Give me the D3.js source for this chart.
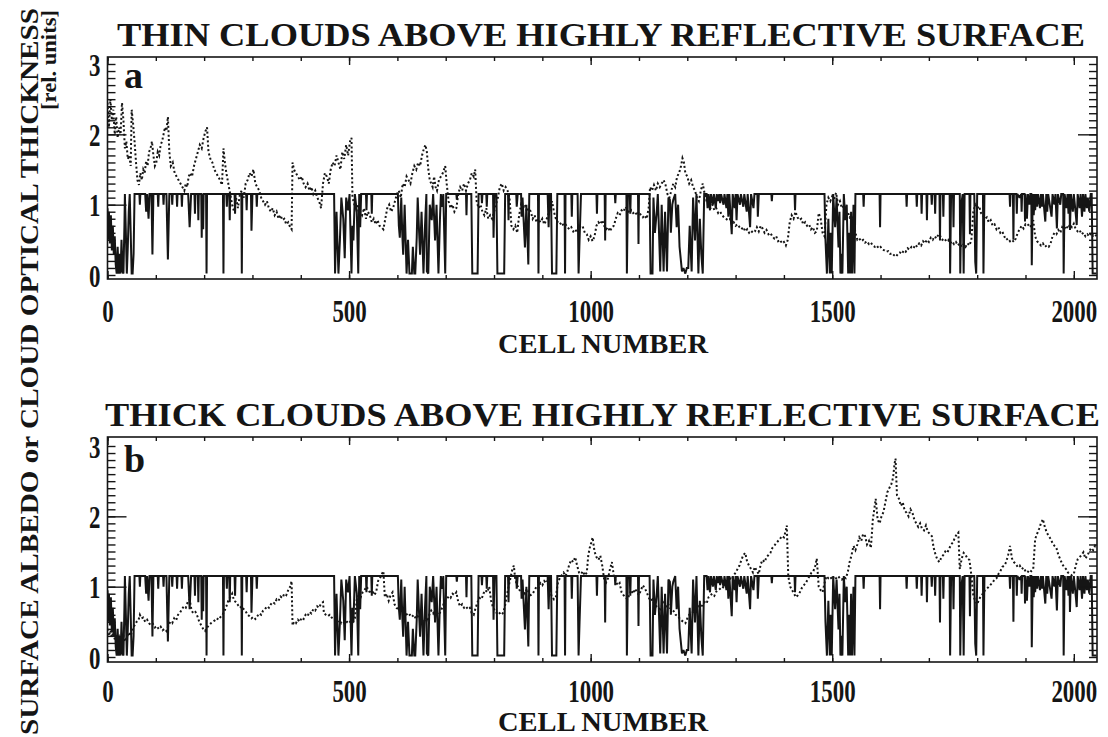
<!DOCTYPE html>
<html>
<head>
<meta charset="utf-8">
<script src="https://cdn.jsdelivr.net/npm/d3@7"></script>
<style>
  body { margin: 0; background: #fff; }
  svg text { font-family: "Liberation Serif", "Times New Roman", serif; font-weight: bold; fill: #151515; }
</style>
</head>
<body>
<svg id="chart" width="1108" height="737"></svg>
<script>
// ---- axis ticks and titles ----
const cellTicks = [0, 500, 1000, 1500, 2000];
const valueTicks = [0, 1, 2, 3];
const panelTitles = ["THIN CLOUDS ABOVE HIGHLY REFLECTIVE SURFACE", "THICK CLOUDS ABOVE HIGHLY REFLECTIVE SURFACE"];
const panelLetters = ["a", "b"];
const xTitle = "CELL NUMBER";
const yTitle = "SURFACE ALBEDO or CLOUD OPTICAL THICKNESS";
const yUnits = "[rel. units]";

// ---- surface albedo (same surface under both cloud fields): [cell, value] vertices ----
const albedo = [
  [0,0.95],[1,0.5],[3,0.9],[5,0.45],[7,0.85],[9,0.35],[11,0.7],[13,0.3],[15,0.55],[17,0.15],[19,0.02],[21,0.4],[23,0.02],[25,0.3],[27,0.02],[29,0.5],[31,0.05],[33,0.02],[35,0.7],[36,1.15],[38,0.6],[40,0.02],[42,0.4],[44,0.9],[46,1.15],[48,0.6],[50,0.02],[52,0.02],[54,0.3],[56,1.15],
  [66,1.15],[67,1.0],[68,1.15],[78,1.15],[80,0.9],[82,1.15],[85,0.8],[87,1.15],
  [91,1.15],[93,0.29],[95,1.15],[104,1.15],[105,0.97],[106,1.15],[115,1.15],[116,1.0],[117,1.15],
  [122,1.15],[125,0.22],[128,1.15],[133,1.15],[134,1.0],[135,1.15],[143,1.15],[144,0.97],[145,1.15],[153,1.15],[154,0.97],[155,1.15],
  [167,1.15],[170,0.68],[173,1.15],[180,1.15],[181,0.87],[182,1.15],[187,1.15],[188,0.78],[189,1.15],[194,1.15],[195,0.53],[196,1.15],[198,0.65],[199,1.15],
  [204,1.15],[205,0.02],[206,1.15],[239,1.15],[240,0.02],[241,1.15],[246,1.15],[247,0.97],[248,1.15],[252,1.15],[253,0.78],[254,1.15],[263,1.15],[264,0.87],[265,1.15],[277,1.15],[278,0.02],[279,1.15],[287,1.15],[288,0.92],[289,1.15],[297,1.15],[298,0.63],[300,1.15],[308,1.15],[309,0.97],[310,1.15],
  [469,1.15],[471,0.02],[474,0.9],[478,0.02],[481,0.49],[484,1.1],[488,0.8],[491,0.24],[494,1.1],[498,0.92],[501,1.15],[505,0.02],[507,0.7],[509,0.49],[512,1.15],[516,0.9],[519,0.02],[521,1.15],[523,0.68],[525,1.15],
  [535,1.15],[536,0.92],[537,1.15],[546,1.15],[547,0.87],[548,1.15],
  [601,1.15],[603,0.7],[605,0.53],[608,1.1],[610,0.6],[612,0.29],[615,1.0],[619,0.02],[622,0.5],[625,0.02],[630,0.02],[632,0.4],[635,0.02],[637,0.02],[640,0.53],[642,1.1],[645,0.6],[647,0.29],[650,0.9],[654,0.02],[657,0.68],[660,1.15],[661,0.05],[664,0.02],[667,1.0],[671,0.78],[674,1.15],[678,0.49],[681,1.0],[685,0.02],[688,0.78],[690,1.15],[692,0.97],[695,1.15],[699,0.02],[701,1.15],
  [722,1.15],[723,1.07],[724,1.15],[742,1.15],[743,0.85],[744,1.15],[753,1.15],[755,0.02],[766,0.02],[768,1.15],[774,1.15],[775,1.02],[776,1.15],[784,1.15],[785,0.97],[786,1.15],[798,1.15],[799,0.53],[801,1.15],[805,1.15],[807,0.02],[821,0.02],[823,1.15],[829,1.15],[830,0.78],[831,1.15],[846,1.15],[847,0.97],[849,1.15],[856,1.15],[857,0.83],[859,1.1],[864,0.39],[867,1.0],[871,0.15],[873,1.15],[891,1.15],[892,0.02],[893,1.15],[911,1.15],[913,0.68],[915,1.15],[918,1.15],[920,0.02],[929,0.02],[931,1.15],[946,1.15],[947,0.02],[948,1.15],[960,1.15],[961,0.83],[962,1.15],[973,1.15],[975,0.02],[977,0.49],[980,1.15],
  [1012,1.15],[1013,0.87],[1014,1.15],[1029,1.15],[1030,0.49],[1031,1.15],[1050,1.15],[1051,1.02],[1052,1.15],[1074,1.15],[1075,0.02],[1077,1.15],[1081,1.15],[1082,0.87],[1083,1.15],[1098,1.15],[1099,0.44],[1100,1.15],
  [1122,1.15],[1124,0.02],[1128,0.02],[1130,1.1],[1133,0.6],[1137,0.92],[1139,1.15],[1142,0.5],[1144,0.05],[1147,1.0],[1151,0.05],[1154,0.9],[1158,0.05],[1161,1.1],[1164,1.07],[1166,0.6],[1169,1.0],[1171,1.07],[1175,1.15],[1178,0.68],[1181,1.0],[1184,0.4],[1189,0.05],[1192,0.1],[1196,0.02],[1199,0.1],[1202,0.1],[1205,0.7],[1209,0.05],[1212,1.1],[1216,0.49],[1219,1.15],[1223,0.02],[1226,0.8],[1229,0.3],[1232,0.02],[1235,1.15],
  [1240,1.15],[1242,0.95],[1244,1.15],[1247,0.92],[1249,1.15],[1253,1.0],[1255,1.15],[1259,0.95],[1261,1.15],[1264,1.05],[1266,1.15],[1268,1.02],[1270,1.15],[1275,1.0],[1277,1.15],[1281,0.95],[1283,1.15],[1285,0.83],[1287,1.15],[1292,0.58],[1294,1.15],[1298,0.95],[1300,1.15],[1302,0.78],[1304,1.15],[1309,1.0],[1311,1.15],[1316,0.97],[1318,1.15],[1323,0.9],[1325,1.15],[1330,0.68],[1332,1.15],[1337,0.95],[1339,1.15],[1345,1.15],[1346,0.83],[1348,1.15],
  [1374,1.15],[1375,1.05],[1376,1.15],[1422,1.15],[1423,0.92],[1424,1.15],
  [1484,1.15],[1486,0.5],[1489,0.02],[1492,0.8],[1495,0.02],[1497,0.6],[1499,0.02],[1502,1.15],[1504,0.9],[1506,0.68],[1509,1.1],[1513,0.39],[1515,0.9],[1517,0.02],[1519,0.3],[1521,0.02],[1524,1.15],[1527,0.78],[1530,1.0],[1533,0.02],[1535,0.6],[1537,0.02],[1539,0.9],[1541,0.02],[1544,1.0],[1546,0.02],[1548,1.15],
  [1564,1.15],[1565,0.97],[1566,1.15],[1598,1.15],[1599,0.68],[1600,1.15],
  [1653,1.15],[1654,0.97],[1655,1.15],[1674,1.15],[1675,0.97],[1676,1.15],[1684,1.15],[1685,0.87],[1686,1.15],[1695,1.15],[1696,0.78],[1697,1.15],[1705,1.15],[1706,1.0],[1707,1.15],[1712,1.15],[1713,0.87],[1714,1.15],[1722,1.15],[1723,0.49],[1724,1.15],[1729,1.15],[1730,0.83],[1731,1.15],[1743,1.15],[1744,0.02],[1746,1.15],[1750,1.15],[1751,0.68],[1752,1.15],[1764,1.15],[1765,0.02],[1767,1.0],[1770,1.15],[1772,0.02],[1774,1.15],[1784,1.15],[1785,0.58],[1786,1.15],[1794,1.15],[1796,0.19],[1798,0.02],[1800,1.15],[1812,1.15],[1813,0.02],[1815,1.15],
  [1867,1.15],[1868,0.97],[1869,1.15],[1874,1.15],[1875,0.5],[1876,1.15],[1881,1.15],[1882,0.87],[1883,1.15],[1888,1.1],[1891,1.15],[1892,0.9],[1893,1.15],[1898,1.15],[1899,0.76],[1900,1.15],[1903,0.8],[1905,1.15],[1908,1.0],[1910,1.15],[1912,1.15],[1913,0.14],[1915,1.15],[1917,0.85],[1919,1.15],[1920,0.92],[1922,1.15],[1924,0.97],[1926,1.15],[1930,0.95],[1932,1.15],[1934,0.97],[1936,1.15],[1941,0.76],[1943,1.15],[1945,0.9],[1947,1.15],[1954,0.83],[1956,1.15],[1960,1.0],[1962,1.15],[1965,0.66],[1967,1.15],[1972,1.0],[1974,1.15],[1978,1.15],[1979,0.02],[1981,1.15],[1985,0.95],[1987,1.15],[1989,0.87],[1991,1.15],[1992,0.64],[1994,1.15],[1998,0.9],[2000,1.15],[2004,0.87],[2006,0.71],[2008,1.15],[2012,0.95],[2014,1.15],[2017,0.83],[2019,1.15],[2022,0.9],[2024,1.15],[2027,0.95],[2029,1.1],[2032,0.9],[2035,1.15],[2037,1.15],[2039,0.02],[2047,0.02]
];

// ---- cloud optical thickness, thin clouds: [cell, value] ----
const thinTau = [
  [0,2.45],[3,2.1],[6,2.5],[9,2.2],[12,2.35],[15,2.0],[18,2.25],[21,1.95],[24,2.1],[27,2.0],[30,2.45],[33,2.2],[36,1.8],[39,1.9],[42,1.65],[45,1.7],[48,1.55],[50,2.35],[53,2.15],[56,1.9],[59,1.6],[62,1.35],[65,1.28],[68,1.45],[71,1.35],[74,1.5],[77,1.45],[80,1.62],[83,1.55],[86,1.75],[89,1.8],[92,1.9],[95,1.7],[98,1.55],[101,1.6],[104,1.75],[107,1.7],[110,1.85],[113,1.9],[116,2.0],[119,2.1],[122,2.05],[125,2.25],[128,1.75],[131,1.55],[135,1.6],[139,1.45],[143,1.4],[147,1.35],[151,1.3],[155,1.25],[159,1.2],[162,1.3],[165,1.25],[168,1.4],[171,1.45],[175,1.4],[179,1.55],[183,1.65],[187,1.75],[191,1.85],[195,1.8],[199,1.95],[203,2.05],[206,2.1],[209,1.75],[213,1.65],[217,1.6],[221,1.5],[225,1.45],[229,1.4],[233,1.35],[237,1.28],[240,1.8],[243,1.6],[246,1.45],[250,1.3],[254,1.15],[258,1.0],[262,0.9],[266,1.1],[270,0.95],[274,1.15],[278,1.2],[282,1.1],[286,1.3],[290,1.35],[294,1.45],[298,1.4],[302,1.5],[306,1.3],[310,1.25],[314,1.2],[318,1.1],[322,1.05],[326,1.0],[330,1.05],[334,0.95],[338,0.9],[342,0.95],[346,0.85],[350,0.9],[354,0.8],[358,0.85],[362,0.78],[366,0.8],[370,0.72],[374,0.75],[378,0.68],[381,0.65],
  [383,1.6],[386,1.5],[390,1.45],[394,1.4],[398,1.35],[402,1.4],[406,1.3],[410,1.25],[414,1.3],[418,1.2],[422,1.25],[426,1.15],[430,1.2],[434,1.1],[438,1.05],[442,0.95],[446,1.3],[450,1.45],[454,1.4],[458,1.3],[462,1.5],[466,1.6],[470,1.55],[474,1.7],[478,1.6],[482,1.5],[486,1.75],[490,1.65],[494,1.85],[498,1.7],[502,1.9],[505,1.95],[507,1.1],[511,1.0],[515,0.9],[519,1.0],[523,0.9],[527,0.85],[531,0.95],[535,0.8],[539,0.9],[543,0.85],[547,0.75],[551,0.8],[555,0.72],[559,0.78],[563,0.7],[567,0.68],[571,0.65],[575,0.8],[579,0.95],[583,1.0],[587,0.9],[591,0.95],[595,1.05],[599,1.15],[603,1.2],[607,1.1],[611,1.3],[615,1.25],[619,1.4],[623,1.35],[627,1.3],[631,1.45],[635,1.55],[639,1.5],[643,1.6],[647,1.55],[651,1.7],[655,1.8],[658,1.85],[661,1.75],[664,1.5],[667,1.35],[670,1.3],[673,1.25],
  [676,1.4],[679,1.25],[682,1.2],[686,1.35],[690,1.4],[694,1.45],[699,1.55],[702,1.3],[706,1.05],[710,0.95],[714,1.0],[718,0.9],[722,0.95],[726,1.15],[730,1.25],[734,1.2],[738,1.3],[742,1.2],[746,1.3],[750,1.35],[754,1.45],[758,1.4],[761,1.5],[764,1.05],[768,0.95],[772,1.0],[776,0.9],[780,0.85],[784,0.95],[788,0.8],[792,0.85],[796,0.8],[800,0.9],[804,1.0],[808,1.1],[812,1.25],[816,1.3],[820,1.2],[824,1.25],[828,1.2],[832,1.1],[836,0.7],[840,0.65],[844,0.7],[848,0.6],[852,0.85],[856,1.0],[860,0.95],[864,1.0],[868,0.9],[872,0.95],[876,0.9],[880,0.8],[884,0.85],[888,0.75],[892,0.8],[896,0.75],[900,0.8],[904,0.72],[908,0.78],[912,0.85],[916,0.95],[920,1.05],[924,0.9],[928,0.8],[932,0.75],[936,0.72],[940,0.75],[944,0.7],[948,0.72],[952,0.68],[956,0.65],[960,0.68],[964,0.62],[968,0.65],[972,0.6],[976,0.66],[980,0.7],[984,0.68],[988,0.6],[992,0.58],[996,0.5],[1000,0.55],[1004,0.48],[1008,0.55],[1012,0.7],[1016,0.75],[1020,0.72],[1024,0.78],[1028,0.7],[1032,0.65],[1036,0.68],[1040,0.62],[1044,0.68],[1048,0.7],[1052,0.8],[1056,0.88],[1060,0.85],[1064,0.92],[1068,0.9],[1072,0.97],[1076,0.93],[1080,0.88],[1084,0.92],[1088,0.88],[1092,0.9],[1096,0.85],[1100,0.9],[1104,0.85],[1108,0.82],[1112,0.85],[1116,0.8],[1120,0.95],
  [1123,1.25],[1127,1.2],[1131,1.28],[1135,1.2],[1139,1.3],[1143,1.25],[1147,1.3],[1151,1.35],[1155,1.28],[1159,1.15],[1163,1.1],[1167,1.2],[1171,1.3],[1175,1.25],[1179,1.4],[1183,1.45],[1187,1.55],[1190,1.66],[1193,1.6],[1196,1.45],[1200,1.4],[1204,1.3],[1208,1.35],[1212,1.25],[1216,1.2],[1220,1.1],[1224,1.05],[1228,1.2],[1232,1.3],[1236,1.15],[1240,1.05],[1244,1.0],[1248,0.95],[1252,1.0],[1256,0.92],[1260,0.95],[1264,0.88],[1268,0.9],[1272,0.85],[1276,0.82],[1280,0.8],[1284,0.78],[1288,0.8],[1292,0.72],[1296,0.75],[1300,0.7],[1304,0.72],[1308,0.68],[1312,0.65],[1316,0.68],[1320,0.62],[1324,0.65],[1328,0.6],[1332,0.63],[1336,0.6],[1340,0.62],
  [1344,0.68],[1348,0.62],[1352,0.7],[1356,0.66],[1360,0.6],[1364,0.64],[1368,0.58],[1372,0.6],[1376,0.55],[1380,0.52],[1384,0.55],[1388,0.48],[1392,0.5],[1396,0.45],[1400,0.47],[1404,0.42],[1408,0.5],[1412,0.75],[1416,0.85],[1420,0.8],[1424,0.9],[1428,0.82],[1432,0.78],[1436,0.8],[1440,0.72],[1444,0.75],[1448,0.7],[1452,0.72],[1456,0.65],[1460,0.68],[1464,0.6],[1468,0.62],[1472,0.88],[1476,0.8],[1480,0.6],[1484,0.55],[1488,1.0],[1492,1.1],[1496,1.05],[1500,1.12],[1504,1.08],[1508,1.17],[1512,1.0],[1516,1.05],[1520,0.95],[1524,0.98],[1528,0.88],[1532,0.9],[1536,0.82],[1540,0.85],[1544,0.78],[1548,0.6],[1552,0.5],[1556,0.52],[1560,0.48],[1564,0.5],[1568,0.46],[1572,0.48],[1576,0.44],[1580,0.46],[1584,0.42],[1588,0.4],[1592,0.42],[1596,0.38],[1600,0.4],[1604,0.36],[1608,0.35],[1612,0.33],[1616,0.34],[1620,0.3],[1624,0.31],[1628,0.28],[1632,0.26],[1636,0.3],[1640,0.32],[1644,0.3],[1648,0.35],[1652,0.33],[1656,0.38],[1660,0.36],[1664,0.4],[1668,0.38],[1672,0.43],[1676,0.4],[1680,0.45],[1684,0.42],[1688,0.48],[1692,0.45],[1696,0.5],[1700,0.47],[1704,0.53],[1708,0.5],[1712,0.55],[1716,0.52],[1720,0.58],[1724,0.55],[1728,0.5],[1732,0.52],[1736,0.48],[1740,0.5],[1744,0.45],[1748,0.48],[1752,0.44],[1756,0.47],[1760,0.42],[1764,0.45],[1768,0.4],[1772,0.44],[1776,0.4],[1780,0.45],[1784,0.42],[1788,0.5],
  [1792,0.9],[1796,1.0],[1800,0.95],[1804,0.98],[1808,0.88],[1812,0.85],[1816,0.8],[1820,0.82],[1824,0.75],[1828,0.78],[1832,0.7],[1836,0.72],[1840,0.65],[1844,0.68],[1848,0.6],[1852,0.62],[1856,0.55],[1860,0.5],[1864,0.52],[1868,0.48],[1872,0.5],[1876,0.47],[1880,0.52],[1884,0.6],[1888,0.65],[1892,0.7],[1896,0.66],[1900,0.72],[1904,0.7],[1908,0.73],[1912,0.68],[1916,0.78],[1920,0.55],[1924,0.48],[1928,0.45],[1932,0.42],[1936,0.45],[1940,0.4],[1944,0.42],[1948,0.4],[1952,0.45],[1956,0.55],[1960,0.6],[1964,0.58],[1968,0.64],[1972,0.6],[1976,0.68],[1980,0.65],[1984,0.7],[1988,0.66],[1992,0.72],[1996,0.68],[2000,0.73],[2004,0.65],[2008,0.62],[2012,0.64],[2016,0.58],[2020,0.6],[2024,0.55],[2028,0.58],[2032,0.55],[2036,0.6],[2040,0.56],[2044,0.58],[2047,0.55]
];

// ---- cloud optical thickness, thick clouds: [cell, value] ----
const thickTau = [
  [0,0.4],[3,0.3],[6,0.38],[9,0.28],[12,0.35],[15,0.25],[18,0.32],[21,0.22],[24,0.28],[27,0.2],[30,0.26],[33,0.3],[36,0.22],[40,0.28],[44,0.35],[48,0.3],[52,0.4],[56,0.45],[60,0.5],[64,0.52],[67,0.6],[70,0.55],[74,0.56],[78,0.5],[82,0.53],[86,0.48],[90,0.45],[94,0.47],[98,0.42],[102,0.44],[106,0.4],[110,0.43],[114,0.38],[118,0.4],[122,0.37],[126,0.45],[130,0.5],[134,0.48],[138,0.55],[142,0.52],[146,0.6],[150,0.63],[154,0.68],[158,0.72],[162,0.7],[166,0.78],[170,0.82],[174,0.66],[178,0.62],[182,0.64],[186,0.58],[190,0.5],[194,0.45],[198,0.4],[202,0.37],[206,0.42],[210,0.45],[214,0.48],[218,0.5],[222,0.52],[226,0.55],[230,0.53],[234,0.57],[238,0.6],[242,0.65],[246,0.72],[250,0.8],[254,0.85],[258,0.9],[262,0.8],[266,0.78],[270,0.74],[274,0.7],[278,0.72],[282,0.68],[286,0.65],[290,0.6],[294,0.58],[298,0.55],[302,0.57],[306,0.54],[310,0.58],[314,0.62],[318,0.6],[322,0.66],[326,0.68],[330,0.72],[334,0.7],[338,0.75],[342,0.78],[346,0.76],[350,0.82],[354,0.8],[358,0.86],[362,0.84],[366,0.9],[370,0.88],[374,0.95],[378,1.0],[381,1.08],
  [383,0.45],[386,0.5],[390,0.48],[394,0.53],[398,0.5],[402,0.56],[406,0.54],[410,0.6],[414,0.58],[418,0.64],[422,0.62],[426,0.68],[430,0.66],[434,0.72],[438,0.7],[442,0.76],[446,0.78],[448,0.62],[452,0.6],[456,0.58],[460,0.6],[464,0.56],[468,0.54],[472,0.55],[476,0.5],[480,0.52],[484,0.48],[488,0.5],[492,0.47],[496,0.5],[500,0.48],[504,0.52],[508,0.5],[512,0.55],[516,0.82],[520,0.88],[524,0.85],[528,0.92],[532,0.95],[536,1.0],[540,0.96],[544,0.9],[548,0.95],[552,0.88],[556,0.92],[560,1.08],[564,1.12],[568,1.18],[571,1.22],[574,0.85],[578,0.9],[582,0.8],[586,0.88],[590,0.92],[594,0.75],[598,0.7],[602,0.68],[606,0.65],[610,0.62],[614,0.6],[618,0.62],[622,0.58],[626,0.6],[630,0.57],[634,0.6],[638,0.55],[642,0.58],[646,0.54],[650,0.52],[654,0.5],[658,0.54],[662,0.5],[666,0.6],[670,0.66],[674,0.62],[678,0.68],[682,0.62],[686,0.6],[690,0.66],[694,0.72],[698,0.8],[702,0.82],[706,0.86],[710,0.84],[714,0.9],[718,0.88],[722,0.92],[726,0.78],[730,0.72],[734,0.75],[738,0.7],[742,0.72],[746,0.68],[750,0.7],[754,0.62],[758,0.6],[762,0.7],[766,0.78],[770,0.84],[774,0.82],[778,0.9],[782,0.95],[786,0.92],[790,1.0],[794,0.8],[798,0.7],[802,0.66],[806,0.62],[810,0.64],[814,0.6],[818,0.62],[822,0.7],[826,0.85],[830,1.0],[834,1.12],[838,1.25],[841,1.3],[844,1.1],[848,1.02],[852,0.96],[856,0.92],[860,0.95],[864,0.9],[868,0.97],[872,0.92],[876,0.88],[880,0.9],[884,0.95],[888,1.0],[892,0.98],[896,1.05],[900,1.02],[904,1.08],[908,1.05],[912,1.1],[916,0.92],[920,0.86],[924,0.82],[928,0.85],[932,1.05],[936,1.12],[940,1.16],[944,1.2],[948,1.15],[952,1.22],[956,1.32],[960,1.38],[964,1.35],[968,1.42],[972,1.3],[976,1.2],[980,1.18],[984,1.22],[988,1.16],[992,1.2],[995,1.44],[998,1.55],[1001,1.62],[1004,1.7],[1008,1.5],[1012,1.42],[1016,1.38],[1020,1.44],[1024,1.3],[1028,1.1],[1032,1.06],[1036,1.12],[1040,1.25],[1044,1.35],[1048,1.15],[1052,1.08],[1056,1.02],[1060,1.05],[1064,0.92],[1068,0.88],[1072,0.85],[1076,0.82],[1080,0.88],[1084,0.95],[1088,0.9],[1092,0.97],[1096,0.92],[1100,0.88],[1104,0.95],[1108,1.02],[1112,0.98],[1116,0.92],[1120,0.85],[1124,0.8],[1128,0.82],[1132,0.75],[1136,0.72],[1140,0.7],[1144,0.68],[1148,0.74],[1152,0.78],[1156,0.72],[1160,0.76],[1164,0.7],[1168,0.68],[1172,0.65],[1176,0.6],[1180,0.58],[1184,0.55],[1188,0.52],[1192,0.5],[1196,0.48],[1200,0.55],[1204,0.6],[1208,0.62],[1212,0.64],[1216,0.66],[1220,0.68],[1224,0.72],[1228,0.7],[1232,0.75],[1236,0.78],[1240,0.76],[1244,0.85],[1248,0.88],[1252,0.9],[1256,0.87],[1260,0.93],[1264,0.95],[1268,0.97],[1272,1.0],[1276,0.98],[1280,1.05],[1284,1.08],[1288,1.12],[1292,1.1],[1296,1.16],[1300,1.2],[1304,1.25],[1308,1.3],[1312,1.38],[1316,1.45],[1320,1.48],[1324,1.35],[1328,1.3],[1332,1.25],[1336,1.2],[1340,1.28],[1344,1.22],[1348,1.18],[1352,1.32],[1356,1.38],[1360,1.35],[1364,1.42],[1368,1.45],[1372,1.48],[1376,1.55],[1380,1.58],[1384,1.62],[1388,1.65],[1392,1.68],[1396,1.72],[1400,1.7],[1404,1.8],[1406,1.87],
  [1409,1.15],[1413,1.0],[1417,0.95],[1421,0.9],[1425,0.85],[1429,0.88],[1433,0.92],[1437,0.98],[1441,1.02],[1445,1.05],[1449,1.1],[1453,1.15],[1457,1.2],[1461,1.22],[1465,1.3],[1468,1.4],[1472,1.0],[1476,0.95],[1480,0.92],[1484,1.05],[1488,1.15],[1492,1.12],[1496,1.14],[1500,1.1],[1504,1.15],[1508,1.12],[1512,1.15],[1516,1.12],[1520,1.1],[1524,1.14],[1528,1.12],[1532,1.2],[1536,1.35],[1540,1.45],[1544,1.58],[1548,1.52],[1552,1.6],[1556,1.7],[1560,1.65],[1564,1.75],[1568,1.72],[1572,1.6],[1576,1.65],[1580,1.55],[1584,1.95],[1587,2.1],[1590,2.25],[1594,1.95],[1598,1.9],[1602,2.0],[1606,2.06],[1610,2.2],[1614,2.34],[1618,2.4],[1622,2.45],[1626,2.55],[1629,2.75],[1631,2.82],[1634,2.3],[1638,2.25],[1642,2.15],[1646,2.2],[1650,2.08],[1654,2.05],[1658,2.0],[1662,2.1],[1666,2.05],[1670,1.95],[1674,1.9],[1678,1.85],[1682,1.9],[1686,1.82],[1690,1.8],[1694,1.87],[1698,1.78],[1702,1.75],[1706,1.72],[1710,1.55],[1714,1.45],[1718,1.38],[1722,1.35],[1726,1.42],[1730,1.45],[1734,1.5],[1738,1.48],[1742,1.54],[1746,1.6],[1750,1.63],[1754,1.7],[1758,1.75],[1761,1.77],[1764,1.25],[1768,1.4],[1772,1.48],[1776,1.45],[1780,1.4],[1784,1.38],[1788,1.16],[1792,0.87],[1796,0.8],[1800,0.75],[1804,0.82],[1808,0.87],[1812,0.9],[1816,0.95],[1820,0.97],[1824,1.0],[1828,1.03],[1832,1.06],[1836,1.1],[1840,1.12],[1844,1.18],[1848,1.22],[1852,1.28],[1856,1.3],[1860,1.35],[1864,1.45],[1868,1.58],[1872,1.4],[1876,1.35],[1880,1.32],[1884,1.28],[1888,1.3],[1892,1.25],[1896,1.27],[1900,1.22],[1904,1.2],[1908,1.24],[1912,1.22],[1916,1.25],[1920,1.68],[1924,1.75],[1928,1.82],[1932,1.9],[1936,1.96],[1940,1.85],[1944,1.77],[1948,1.72],[1952,1.68],[1956,1.62],[1960,1.58],[1964,1.55],[1968,1.45],[1972,1.39],[1976,1.32],[1980,1.28],[1984,1.25],[1988,1.2],[1992,1.18],[1996,1.16],[2000,1.18],[2004,1.3],[2008,1.39],[2012,1.42],[2016,1.45],[2020,1.49],[2024,1.4],[2028,1.44],[2032,1.5],[2036,1.55],[2040,1.52],[2044,1.58],[2047,1.55]
];

// ---- layout ----
const svg = d3.select("#chart");
const plotLeft = 107.5, plotRight = 1097;
const panels = [
  { tau: thinTau, top: 57, bottom: 279, yZero: 275, yThree: 64, titleBase: 46, titleX0: 117, titleX1: 1085, letterBase: 88, tickPad: 21, xTitleBase: 353 },
  { tau: thickTau, top: 437, bottom: 662, yZero: 657, yThree: 446, titleBase: 426, titleX0: 105, titleX1: 1100, letterBase: 472, tickPad: 18, xTitleBase: 731 }
];
const numScaleX = 0.74;    // narrow numerals
const ink = "#151515";

const x = d3.scaleLinear().domain([0, 2048]).range([plotLeft, plotRight]);

panels.forEach((p, i) => {
  const y = d3.scaleLinear().domain([0, 3]).range([p.yZero, p.yThree]);
  const g = svg.append("g");

  // clip region for the data lines
  const clipId = "clip" + i;
  svg.append("clipPath").attr("id", clipId)
    .append("rect").attr("x", plotLeft).attr("y", p.top)
    .attr("width", plotRight - plotLeft).attr("height", p.bottom - p.top);

  const line = d3.line().x(d => x(d[0])).y(d => y(d[1]));

  const data = g.append("g").attr("clip-path", `url(#${clipId})`);
  data.append("path").datum(p.tau)
    .attr("d", line).attr("fill", "none")
    .attr("stroke", ink).attr("stroke-width", 2)
    .attr("stroke-dasharray", "2,2.4");
  data.append("path").datum(albedo)
    .attr("d", line).attr("fill", "none")
    .attr("stroke", ink).attr("stroke-width", 2)
    .attr("stroke-linejoin", "miter").attr("stroke-miterlimit", 2);

  // inward ticks on all four sides
  const minorY = d3.range(0, 31).map(k => k / 10);
  const minorX = d3.range(0, 21).map(k => k * 100);
  const yMajorLong = [1, 2];

  const addAxis = (axis, tf, cls) => {
    const a = g.append("g").attr("transform", tf).attr("class", cls).call(axis);
    a.select(".domain").remove();
    a.selectAll("line").attr("stroke", ink).attr("stroke-width", 1.4);
    return a;
  };

  addAxis(d3.axisLeft(y).tickValues(minorY).tickSize(-8).tickFormat(""), `translate(${plotLeft},0)`, "yminor");
  addAxis(d3.axisRight(y).tickValues(minorY).tickSize(-8).tickFormat(""), `translate(${plotRight},0)`, "yminor");
  addAxis(d3.axisLeft(y).tickValues(yMajorLong).tickSize(-19).tickFormat(""), `translate(${plotLeft},0)`, "ymajor");
  addAxis(d3.axisRight(y).tickValues(yMajorLong).tickSize(-19).tickFormat(""), `translate(${plotRight},0)`, "ymajor");

  addAxis(d3.axisBottom(x).tickValues(minorX).tickSize(-4).tickFormat(""), `translate(0,${p.bottom})`, "xminor");
  addAxis(d3.axisTop(x).tickValues(minorX).tickSize(-4).tickFormat(""), `translate(0,${p.top})`, "xminor");
  addAxis(d3.axisTop(x).tickValues(cellTicks).tickSize(-8).tickFormat(""), `translate(0,${p.top})`, "xmajor");

  // labelled axes
  const xa = addAxis(d3.axisBottom(x).tickValues(cellTicks).tickSize(-8).tickPadding(p.tickPad).tickFormat(d3.format("d")),
    `translate(0,${p.bottom})`, "xlab");
  xa.selectAll("text").attr("font-size", 31).attr("fill", ink)
    .attr("transform", `scale(${numScaleX},1)`);

  const ya = addAxis(d3.axisLeft(y).tickValues(valueTicks).tickSize(0).tickPadding(7).tickFormat(d3.format("d")),
    `translate(${plotLeft},0)`, "ylab");
  ya.selectAll("text").attr("font-size", 31).attr("fill", ink)
    .attr("x", -7 / numScaleX).attr("dy", "0.36em")
    .attr("transform", `scale(${numScaleX},1)`);

  // frame
  g.append("rect").attr("x", plotLeft).attr("y", p.top)
    .attr("width", plotRight - plotLeft).attr("height", p.bottom - p.top)
    .attr("fill", "none").attr("stroke", ink).attr("stroke-width", 1.6);

  // panel title
  g.append("text").attr("x", (p.titleX0 + p.titleX1) / 2).attr("y", p.titleBase)
    .attr("text-anchor", "middle").attr("font-size", 34)
    .attr("textLength", p.titleX1 - p.titleX0).attr("lengthAdjust", "spacingAndGlyphs")
    .text(panelTitles[i]);

  // panel letter
  g.append("text").attr("x", 124).attr("y", p.letterBase)
    .attr("font-size", 38).text(panelLetters[i]);

  // x axis title
  g.append("text").attr("x", 603).attr("y", p.xTitleBase)
    .attr("text-anchor", "middle").attr("font-size", 28)
    .attr("textLength", 210).attr("lengthAdjust", "spacingAndGlyphs")
    .text(xTitle);
});

// shared y axis title
svg.append("text")
  .attr("transform", "translate(38,8) rotate(-90)")
  .attr("text-anchor", "end").attr("font-size", 26)
  .attr("textLength", 727).attr("lengthAdjust", "spacingAndGlyphs")
  .text(yTitle);
svg.append("text")
  .attr("transform", "translate(56,10) rotate(-90)")
  .attr("text-anchor", "end").attr("font-size", 21)
  .attr("textLength", 100).attr("lengthAdjust", "spacingAndGlyphs")
  .text(yUnits);
</script>
</body>
</html>
